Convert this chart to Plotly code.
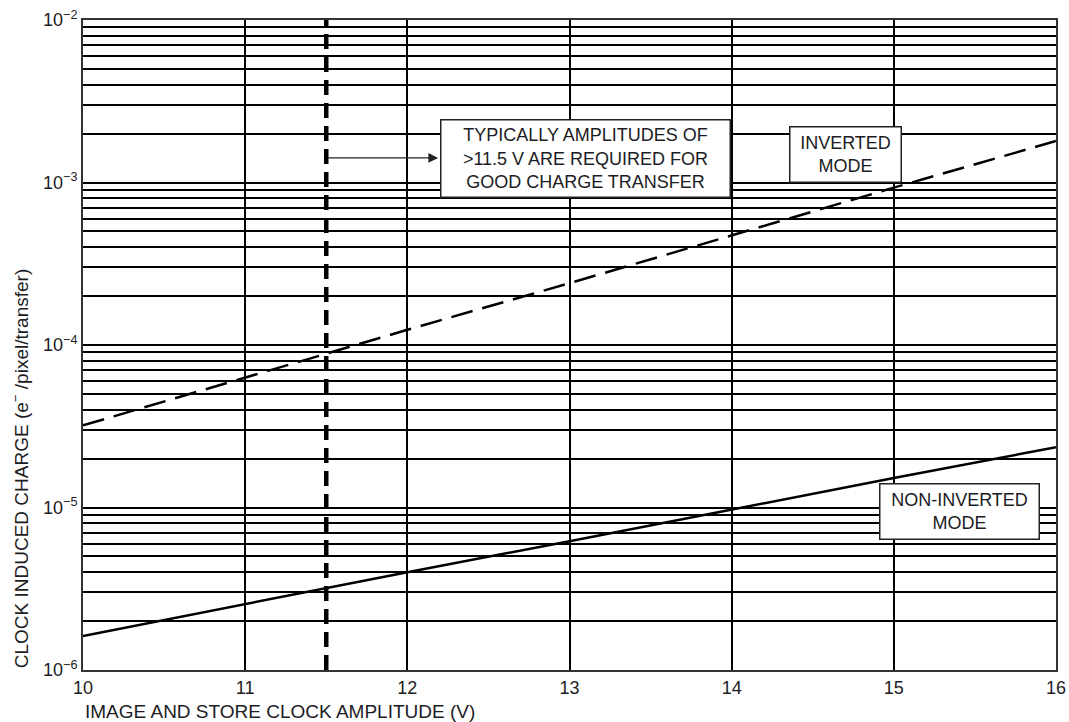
import plotly.graph_objects as go

# Data
amplitude_v = [10, 11, 12, 13, 14, 15, 16]
inverted_mode = [3.2e-5, 6.3e-5, 1.24e-4, 2.4e-4, 4.7e-4, 9.3e-4, 1.8e-3]
non_inverted_mode = [1.62e-6, 2.55e-6, 4.0e-6, 6.2e-6, 9.7e-6, 1.52e-5, 2.35e-5]
threshold_v = 11.5
y_range_exp = [-6, -2]

x_ticks = [10, 11, 12, 13, 14, 15, 16]
decades = [-6, -5, -4, -3, -2]

FONT = "Liberation Sans, Arial, sans-serif"
TXT = "#1c1c24"

# log ticks with minor grid lines
tickvals, ticktext = [], []
for d in decades:
    tickvals.append(10 ** d)
    ticktext.append(f"10<sup>\u2212{abs(d)}</sup>")
    if d < -2:
        for m in range(2, 10):
            tickvals.append(m * 10 ** d)
            ticktext.append("")

fig = go.Figure()

fig.add_trace(go.Scatter(
    x=amplitude_v, y=inverted_mode, mode="lines",
    line=dict(color="black", width=2.5, dash="22px,10px"),
    showlegend=False, hoverinfo="skip"))

fig.add_trace(go.Scatter(
    x=amplitude_v, y=non_inverted_mode, mode="lines",
    line=dict(color="black", width=2.5),
    showlegend=False, hoverinfo="skip"))

fig.add_trace(go.Scatter(
    x=[threshold_v, threshold_v], y=[10 ** y_range_exp[0], 10 ** y_range_exp[1]],
    mode="lines",
    line=dict(color="black", width=4.5, dash="15px,8px"),
    showlegend=False, hoverinfo="skip"))

# Arrow from threshold line to note box
fig.add_annotation(
    x=12.19, y=-2.849, ax=threshold_v, ay=-2.849,
    xref="x", yref="y", axref="x", ayref="y",
    text="", showarrow=True, arrowhead=2, arrowsize=1.5, arrowwidth=1.3,
    arrowcolor="#222")

box_font = dict(family=FONT, size=18, color=TXT)
fig.add_annotation(
    x=13.099, y=-2.852, xref="x", yref="y",
    text="TYPICALLY AMPLITUDES OF<br>&gt;11.5 V ARE REQUIRED FOR<br>GOOD CHARGE TRANSFER",
    showarrow=False, font=box_font, width=280, height=68,
    bgcolor="white", bordercolor="#222", borderwidth=1.5, borderpad=4, align="center")

fig.add_annotation(
    x=14.702, y=-2.828, xref="x", yref="y",
    text="INVERTED<br>MODE",
    showarrow=False, font=box_font, width=102, height=46,
    bgcolor="white", bordercolor="#222", borderwidth=1.5, borderpad=4, align="center")

fig.add_annotation(
    x=15.405, y=-5.025, xref="x", yref="y",
    text="NON-INVERTED<br>MODE",
    showarrow=False, font=box_font, width=150, height=46,
    bgcolor="white", bordercolor="#222", borderwidth=1.5, borderpad=4, align="center")

# Axis titles (left/bottom aligned)
fig.add_annotation(
    x=0, y=-0.0646, xref="paper", yref="paper", xanchor="left", yanchor="middle",
    text="IMAGE AND STORE CLOCK AMPLITUDE (V)", showarrow=False,
    font=dict(family=FONT, size=19, color=TXT))

fig.add_annotation(
    x=-0.065, y=0, xref="paper", yref="paper", xanchor="center", yanchor="bottom",
    textangle=-90,
    text="CLOCK INDUCED CHARGE (e<sup>\u2212</sup> /pixel/transfer)", showarrow=False,
    font=dict(family=FONT, size=19, color=TXT))

fig.update_xaxes(
    range=[10, 16], tickvals=x_ticks, ticktext=[str(v) for v in x_ticks],
    showgrid=True, gridcolor="black", gridwidth=1.5,
    showline=True, linecolor="#333", linewidth=2, mirror=True,
    ticks="", zeroline=False, automargin=False,
    tickfont=dict(family=FONT, size=18, color=TXT))

fig.update_yaxes(
    type="log", range=y_range_exp, tickvals=tickvals, ticktext=ticktext,
    showgrid=True, gridcolor="black", gridwidth=1.5,
    showline=True, linecolor="#333", linewidth=2, mirror=True,
    ticks="", zeroline=False, automargin=False,
    tickfont=dict(family=FONT, size=18, color=TXT))

fig.update_layout(
    width=1069, height=722,
    margin=dict(l=83, r=13, t=20, b=52, autoexpand=False),
    paper_bgcolor="white", plot_bgcolor="white",
    font=dict(family=FONT, color=TXT))

fig.write_html(
    "out.html",
    config={"displayModeBar": False},
    post_script="document.body.style.margin='0';document.body.style.overflow='hidden';")
